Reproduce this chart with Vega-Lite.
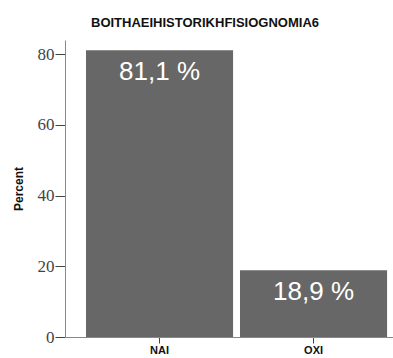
{
  "$schema": "https://vega.github.io/schema/vega-lite/v6.json",
  "autosize": "none",
  "width": 328,
  "height": 297,
  "padding": {"left": 65, "top": 40, "right": 0, "bottom": 21},
  "background": "white",
  "config": {"view": {"stroke": null}, "font": "Liberation Sans"},
  "title": {
    "text": "BOITHAEIHISTORIKHFISIOGNOMIA6",
    "font": "Liberation Sans",
    "fontSize": 13,
    "fontWeight": "bold",
    "color": "#111111",
    "anchor": "middle",
    "dx": -24,
    "offset": 10
  },
  "data": {
    "values": [
      {"category": "NAI", "percent": 81.1, "label": "81,1 %"},
      {"category": "OXI", "percent": 18.9, "label": "18,9 %"}
    ]
  },
  "encoding": {
    "x": {
      "field": "category",
      "type": "nominal",
      "sort": null,
      "scale": {"paddingInner": 0.045, "paddingOuter": 0.0875, "align": 0.78},
      "axis": {
        "title": null,
        "labelAngle": 0,
        "labelFont": "Liberation Sans",
        "labelFontSize": 11,
        "labelFontWeight": "bold",
        "labelColor": "#111111",
        "labelPadding": 1,
        "labelBaseline": "top",
        "tickSize": 6,
        "tickColor": "#444444",
        "domainColor": "#888888",
        "grid": false
      }
    },
    "y": {
      "field": "percent",
      "type": "quantitative",
      "scale": {"domain": [0, 84], "nice": false},
      "axis": {
        "title": "Percent",
        "titleFont": "Liberation Sans",
        "titleFontSize": 12,
        "titleFontWeight": "bold",
        "titleColor": "#111111",
        "titlePadding": 12,
        "values": [0, 20, 40, 60, 80],
        "labelFont": "Liberation Sans Narrow",
        "labelFontSize": 17,
        "labelColor": "#444444",
        "labelPadding": 1,
        "tickSize": 10,
        "tickColor": "#444444",
        "domainColor": "#888888",
        "grid": false
      }
    }
  },
  "layer": [
    {"mark": {"type": "bar", "color": "#676767"}},
    {
      "mark": {
        "type": "text",
        "color": "white",
        "fontSize": 26,
        "font": "Liberation Sans",
        "baseline": "middle",
        "dy": 22
      },
      "encoding": {"text": {"field": "label"}}
    }
  ]
}
